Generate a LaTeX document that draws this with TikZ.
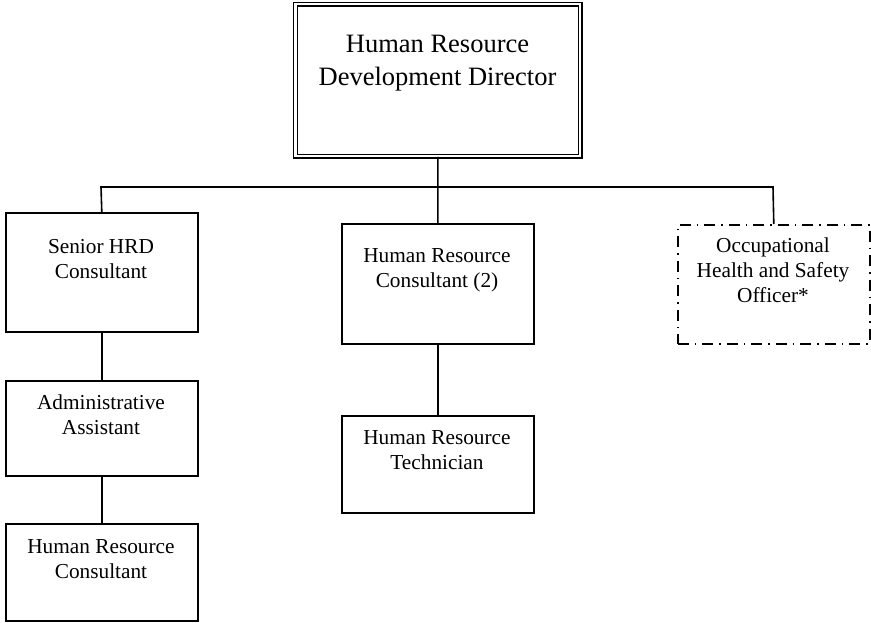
\documentclass[tikz,border=0pt]{standalone}
\usepackage{fontspec}
\setmainfont{Liberation Serif}
\begin{document}
\begin{tikzpicture}[x=1pt,y=-1pt,
  box/.style={draw,line width=1.6pt,rectangle,inner sep=0pt,anchor=north west},
  dashbox/.style={draw,line width=1.6pt,rectangle,inner sep=0pt,anchor=north west,
     dash pattern=on 11pt off 6pt on 1.5pt off 6pt},
  lbl/.style={align=center,font=\fontsize{21.3pt}{25pt}\selectfont,inner sep=0pt},
  biglbl/.style={align=center,font=\fontsize{26.5pt}{33pt}\selectfont,inner sep=0pt},
  conn/.style={line width=1.6pt}]
\useasboundingbox (0,0) rectangle (871,622);
% top box
\node[draw,double,double distance=2.6pt,line width=1.3pt,rectangle,inner sep=0pt,anchor=north west,
  minimum width=284.5pt,minimum height=152pt] (dir) at (295,3.5) {};
\node[biglbl] (dirt) at (437.5,63.5) {Human Resource\\Development Director};
% boxes
\node[box,minimum width=192pt,minimum height=119pt] (sen) at (5,212) {};
\node[lbl] (sent) at (101,259) {Senior HRD\\Consultant};
\node[box,minimum width=192pt,minimum height=95pt] (adm) at (5,380) {};
\node[lbl] (admt) at (101,415) {Administrative\\Assistant};
\node[box,minimum width=192pt,minimum height=97pt] (hrc) at (5,523) {};
\node[lbl] (hrct) at (101,559) {Human Resource\\Consultant};
\node[box,minimum width=192pt,minimum height=120pt] (mid) at (341,223) {};
\node[lbl] (midt) at (437,270.5) {Human Resource\\Consultant (2)};
\node[box,minimum width=192pt,minimum height=97pt] (tec) at (341,415) {};
\node[lbl] (tect) at (437,450) {Human Resource\\Technician};
\node[dashbox,minimum width=192pt,minimum height=119pt] (ohs) at (677,224) {};
\node[lbl] (ohst) at (773,270) {Occupational\\Health and Safety\\Officer*};
% connectors
\coordinate (hl) at (101,187);
\coordinate (hr) at (773,187);
\draw[conn] (dir.south) -- (mid.north);
\draw[conn] (sen.north) -- (hl) -- (hr) -- (ohs.north);
\draw[conn] (sen.south) -- (adm.north);
\draw[conn] (adm.south) -- (hrc.north);
\draw[conn] (mid.south) -- (tec.north);
\end{tikzpicture}
\end{document}
